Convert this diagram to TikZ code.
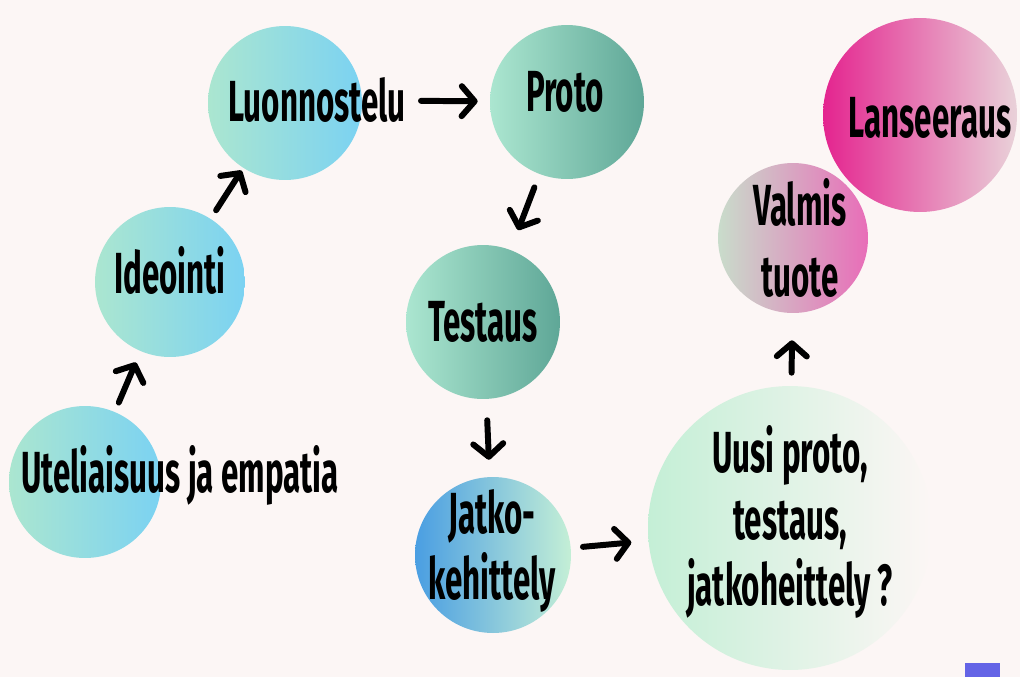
\documentclass[tikz,border=0pt]{standalone}
\usepackage{fontspec}
\setmainfont{Fira Sans}[FakeStretch=0.54]
\usepackage{xcolor}
\usetikzlibrary{arrows.meta,positioning}
\definecolor{tausta}{HTML}{FCF6F5}
\definecolor{minttu}{HTML}{ABE6D0}
\definecolor{taivas}{HTML}{7BD2F2}
\definecolor{petrooli}{HTML}{5FA797}
\definecolor{sininen}{HTML}{4A9EE2}
\definecolor{vaalea}{HTML}{C4EFD6}
\definecolor{harmaa}{HTML}{C9DCCB}
\definecolor{pinkki}{HTML}{E86DB8}
\definecolor{magenta}{HTML}{E4248F}
\definecolor{roosa}{HTML}{E9D2D9}
\definecolor{nelio}{HTML}{6464E6}

\begin{document}
\begin{tikzpicture}[x=0.02cm,y=-0.02cm,
  pallo/.style={circle,inner sep=0pt,shading=axis,shading angle=90},
  teksti/.style={font=\bfseries\fontsize{33}{36}\selectfont,align=center,inner sep=0pt},
  nuoli/.style={-{Straight Barb[length=0.26cm,width=0.6cm,round]},line width=3.4pt,line cap=round}]
  \fill[tausta] (0,0) rectangle (1020,677);
  \useasboundingbox (0,0) rectangle (1020,677);
  % pallot
  \node[pallo,minimum size=3.04cm,left color=minttu,right color=taivas] (ut) at (85,482){};
  \node[pallo,minimum size=3.0cm,left color=minttu,right color=taivas] (id) at (170,282){};
  \node[pallo,minimum size=3.08cm,left color=minttu,right color=taivas] (lu) at (285,103){};
  \node[pallo,minimum size=3.08cm,left color=minttu,right color=petrooli] (pr) at (567,102){};
  \node[pallo,minimum size=3.08cm,left color=minttu,right color=petrooli] (te) at (483,322){};
  \node[pallo,minimum size=3.12cm,left color=sininen,right color=vaalea] (ja) at (493,555){};
  \node[pallo,minimum size=5.68cm,left color=vaalea,right color=tausta] (uu) at (790,528){};
  \node[pallo,minimum size=3.0cm,left color=harmaa,right color=pinkki] (va) at (793,238){};
  \node[pallo,minimum size=3.88cm,left color=magenta,right color=roosa] (la) at (920,115){};
  \fill[nelio] (965,663) rectangle (1000,677);
  % tekstit
  \node[teksti] (utT) at (180,475){Uteliaisuus ja empatia};
  \node[teksti] (idT) at (170,270){Ideointi};
  \node[teksti] (luT) at (317,100){Luonnostelu};
  \node[teksti] (prT) at (565,92){Proto};
  \node[teksti] (teT) at (483,322){Testaus};
  \node[teksti] (jaT) at (492,551){Jatko-\\[2pt]kehittely};
  \node[teksti] (uuT) at (790,522){Uusi proto,\\[2pt]testaus,\\[2pt]jatkoheittely ?};
  \node[teksti] (vaT) at (800,238){Valmis\\[4pt]tuote};
  \node[teksti] (laT) at (930,118){Lanseeraus};
  % nuolet
  \draw[nuoli,shorten <=0.2cm,shorten >=0.24cm] (ut) -- (id);
  \draw[nuoli,shorten <=0.2cm,shorten >=0.06cm] (id) -- (lu);
  \draw[nuoli,shorten <=0.3cm,shorten >=0.24cm] (luT) -- (pr);
  \draw[nuoli,shorten <=0.28cm,shorten >=0.42cm] (pr) -- (te);
  \draw[nuoli,shorten <=0.42cm,shorten >=0.34cm] (te) -- (ja);
  \draw[nuoli,shorten <=0.24cm,shorten >=0.34cm] (ja) -- (uu);
  \draw[nuoli,shorten <=0.26cm,shorten >=0.54cm] (uu) -- (va);
\end{tikzpicture}
\end{document}
